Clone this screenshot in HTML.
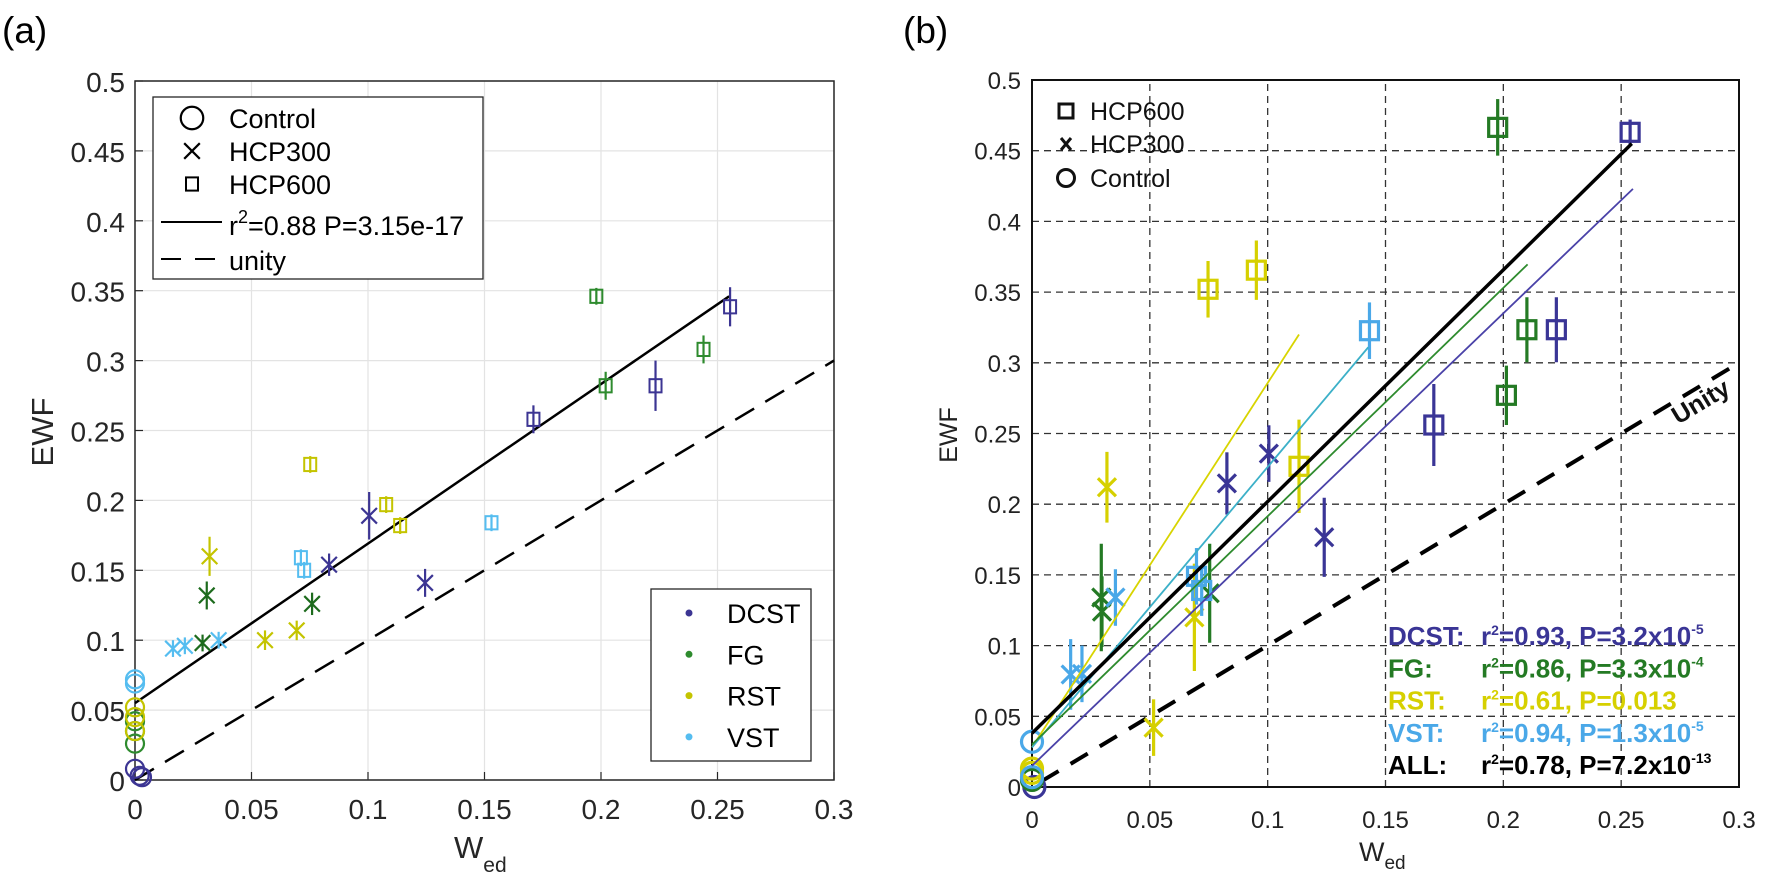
<!DOCTYPE html>
<html><head><meta charset="utf-8">
<style>
html,body{margin:0;padding:0;background:#fff;}
svg{display:block;font-family:"Liberation Sans",Arial,sans-serif;}
</style></head>
<body>
<svg id="fig" width="1765" height="879" viewBox="0 0 1765 879" xmlns="http://www.w3.org/2000/svg">
<g id="pa"></g>
<g id="pb"></g>
</svg>
<script>
// ---------- Panel (a) data ----------
const aGroup = ['DCST','DCST','DCST','DCST','DCST','DCST','DCST','DCST','DCST',
 'FG','FG','FG','FG','FG','FG','FG','FG','FG',
 'RST','RST','RST','RST','RST','RST','RST','RST','RST',
 'VST','VST','VST','VST','VST','VST','VST','VST'];
const aType = ['C','C','C','X','X','X','S','S','S',
 'C','C','C','X','X','X','S','S','S',
 'C','C','C','X','X','X','S','S','S',
 'C','C','X','X','X','S','S','S'];
const aX = [0,0.002,0.003,0.1005,0.0833,0.1245,0.171,0.2234,0.2554,
 0,0,0,0.0308,0.029,0.076,0.198,0.202,0.244,
 0,0,0,0.032,0.0558,0.0694,0.0752,0.1078,0.1138,
 0,0,0.0163,0.0214,0.0359,0.0712,0.0726,0.153];
const aY = [0.008,0.003,0.002,0.189,0.154,0.141,0.258,0.282,0.3385,
 0.026,0.035,0.042,0.132,0.098,0.126,0.346,0.282,0.308,
 0.052,0.045,0.035,0.16,0.1,0.107,0.2257,0.197,0.182,
 0.072,0.069,0.094,0.096,0.1,0.159,0.15,0.184];
const aErr = [0,0,0,0.017,0.008,0.01,0.01,0.018,0.014,
 0,0,0,0.01,0.005,0.008,0.006,0.01,0.01,
 0,0,0,0.014,0.007,0.007,0.003,0.003,0.004,
 0,0,0.003,0.003,0.003,0.004,0.004,0.004];
const aFit = [0.055, 0.255, 0.346]; // intercept, x end, y end
const aTicksX = ['0','0.05','0.1','0.15','0.2','0.25','0.3'];
const aTicksY = ['0','0.05','0.1','0.15','0.2','0.25','0.3','0.35','0.4','0.45','0.5'];

// ---------- Panel (b) data ----------
const bGroup = ['DCST','DCST','DCST','DCST','DCST','DCST','DCST',
 'FG','FG','FG','FG','FG','FG','FG',
 'RST','RST','RST','RST','RST','RST','RST','RST',
 'VST','VST','VST','VST','VST','VST','VST','VST'];
const bType = ['C','X','X','X','S','S','S',
 'C','X','X','X','S','S','S',
 'C','C','X','X','X','S','S','S',
 'C','C','X','X','X','S','S','S'];
const bX = [0.001,0.0827,0.1005,0.124,0.1705,0.2225,0.2538,
 0,0.0294,0.0297,0.0754,0.1976,0.2013,0.21,
 0,0,0.0318,0.0516,0.0689,0.0747,0.0952,0.1133,
 0,0,0.0164,0.0212,0.0354,0.0698,0.072,0.1432];
const bY = [0.0,0.2147,0.2358,0.1766,0.256,0.3234,0.463,
 0.005,0.134,0.124,0.137,0.4665,0.277,0.3234,
 0.013,0.01,0.212,0.042,0.12,0.352,0.3655,0.2268,
 0.032,0.007,0.0796,0.08,0.134,0.149,0.139,0.3227];
const bErr = [0,0.022,0.02,0.028,0.029,0.023,0.009,
 0,0.038,0.025,0.035,0.02,0.021,0.023,
 0,0,0.025,0.02,0.038,0.02,0.021,0.033,
 0,0,0.025,0.02,0.02,0.02,0.018,0.02];
const bFitGroup = ['RST','VST','FG','DCST','ALL'];
const bFitY0 = [0.028,0.028,0.03,0.015,0.038];
const bFitX1 = [0.1133,0.1427,0.2103,0.255,0.2545];
const bFitY1 = [0.32,0.311,0.3696,0.423,0.455];
const bTicksX = ['0','0.05','0.1','0.15','0.2','0.25','0.3'];
const bTicksY = ['0','0.05','0.1','0.15','0.2','0.25','0.3','0.35','0.4','0.45','0.5'];
const bStatGroup = ['DCST','FG','RST','VST','ALL'];
const bStatR = ['0.93','0.86','0.61','0.94','0.78'];
const bStatP = ['3.2x10','3.3x10','0.013','1.3x10','7.2x10'];
const bStatExp = ['-5','-4','','-5','-13'];

const NS='http://www.w3.org/2000/svg';
function mk(parent,tag,attrs,text){const e=document.createElementNS(NS,tag);for(const k in attrs)e.setAttribute(k,attrs[k]);if(text!==undefined)e.textContent=text;parent.appendChild(e);return e;}

const colA={DCST:'#3c3593',FG:'#2e8b2e',RST:'#c4c400',VST:'#55bdf0'};
const colAX={DCST:'#3c3593',FG:'#1d6b1d',RST:'#c4c400',VST:'#55bdf0'};
const colB={DCST:'#3a3596',FG:'#247a24',RST:'#d6d000',VST:'#4aa8e8',ALL:'#000'};
const fitColB={DCST:'#4a42a8',FG:'#2e8b2e',RST:'#d8d400',VST:'#3cb0c8',ALL:'#000'};

// ================= Panel A =================
const pa=document.getElementById('pa');
const A={x0:135,x1:834,y0:780,y1:81};
const ax=v=>A.x0+v/0.3*(A.x1-A.x0);
const ay=v=>A.y0-v/0.5*(A.y0-A.y1);
let t;
t=mk(pa,'text',{x:2,y:43,'font-size':37,fill:'#000'},'(a)');


aTicksX.forEach((lab,i)=>{const v=i*0.05;
 const g=mk(pa,'line',{x1:ax(v),x2:ax(v),y1:A.y0,y2:A.y1,stroke:'#e3e3e3','stroke-width':1.2});
 
 
 mk(pa,'line',{x1:ax(v),x2:ax(v),y1:A.y0,y2:A.y0-8,stroke:'#262626','stroke-width':1.2});
 const l=mk(pa,'text',{x:ax(v),y:819,'font-size':28,fill:'#262626','text-anchor':'middle'},lab);
 
 
});
aTicksY.forEach((lab,i)=>{const v=i*0.05;
 const g=mk(pa,'line',{x1:A.x0,x2:A.x1,y1:ay(v),y2:ay(v),stroke:'#e3e3e3','stroke-width':1.2});
 
 
 mk(pa,'line',{x1:A.x0,x2:A.x0+8,y1:ay(v),y2:ay(v),stroke:'#262626','stroke-width':1.2});
 const l=mk(pa,'text',{x:125,y:ay(v)+11,'font-size':28,fill:'#262626','text-anchor':'end'},lab);
 
 
});
t=mk(pa,'rect',{x:A.x0,y:A.y1,width:A.x1-A.x0,height:A.y0-A.y1,fill:'none',stroke:'#262626','stroke-width':1.5});


t=mk(pa,'text',{x:0,y:0,'font-size':31,fill:'#262626','text-anchor':'middle',transform:'translate(53,432) rotate(-90)'},'EWF');


t=mk(pa,'text',{x:454,y:858,'font-size':31,fill:'#262626'});


t.innerHTML='W<tspan font-size="21" dy="14">ed</tspan>';

t=mk(pa,'line',{x1:ax(0),y1:ay(0),x2:ax(0.3),y2:ay(0.3),stroke:'#000','stroke-width':2.5,'stroke-dasharray':'22,13'});


t=mk(pa,'line',{x1:ax(0),y1:ay(aFit[0]),x2:ax(aFit[1]),y2:ay(aFit[2]),stroke:'#000','stroke-width':2.5});



function markerA(g,type,cx,cy,col,sz){
 if(type==='C'){mk(g,'circle',{cx:cx,cy:cy,r:sz*0.75,fill:'none',stroke:col,'stroke-width':2.2});}
 else if(type==='X'){const d=sz*0.65;
  mk(g,'path',{d:`M${cx-d},${cy-d}L${cx+d},${cy+d}M${cx-d},${cy+d}L${cx+d},${cy-d}`,stroke:col,'stroke-width':2.2,fill:'none'});}
 else {mk(g,'rect',{x:cx-sz*0.5,y:cy-sz*0.55,width:sz,height:sz*1.1,fill:'none',stroke:col,'stroke-width':2});}
}
for(let i=0;i<aX.length;i++){
 const g=mk(pa,'g',{});
 
 
 const col=aType[i]==='X'?colAX[aGroup[i]]:colA[aGroup[i]];
 const cx=ax(aX[i]),cy=ay(aY[i]);
 const e=Math.max(aErr[i],aType[i]==='C'?0:0.006);
 if(aType[i]!=='C') mk(g,'line',{x1:cx,x2:cx,y1:ay(aY[i]+e),y2:ay(aY[i]-e),stroke:col,'stroke-width':2.2});
 markerA(g,aType[i],cx,cy,col,aType[i]==='C'?12:12);
}
t=mk(pa,'rect',{x:153,y:97,width:330,height:182,fill:'#fff',stroke:'#262626','stroke-width':1.3});


const legA=[['C','Control',118],['X','HCP300',151],['S','HCP600',184]];
legA.forEach(r=>{const g=mk(pa,'g',{});
 
 
 markerA(g,r[0],192,r[2],'#000',r[0]==='C'?15:12);
 mk(g,'text',{x:229,y:r[2]+10,'font-size':27,fill:'#000'},r[1]);});
t=mk(pa,'g',{});


mk(t,'line',{x1:161,x2:222,y1:222,y2:222,stroke:'#000','stroke-width':2});
mk(t,'text',{x:229,y:235,'font-size':27,fill:'#000'}).innerHTML='r<tspan font-size="18" dy="-12">2</tspan><tspan dy="12">=0.88 P=3.15e-17</tspan>';
t=mk(pa,'g',{});


mk(t,'line',{x1:161,x2:222,y1:259,y2:259,stroke:'#000','stroke-width':2,'stroke-dasharray':'20,14'});
mk(t,'text',{x:229,y:270,'font-size':27,fill:'#000'},'unity');
t=mk(pa,'rect',{x:651,y:589,width:160,height:172,fill:'#fff',stroke:'#262626','stroke-width':1.3});


['DCST','FG','RST','VST'].forEach((n,i)=>{const y=613+i*41.3;const g=mk(pa,'g',{});
 
 
 mk(g,'circle',{cx:689,cy:y,r:3.5,fill:colA[n]});
 mk(g,'text',{x:727,y:y+10,'font-size':27,fill:'#000'},n);});

// ================= Panel B =================
const pb=document.getElementById('pb');
const B={x0:1032,x1:1739,y0:787,y1:80};
const bx=v=>B.x0+v/0.3*(B.x1-B.x0);
const by=v=>B.y0-v/0.5*(B.y0-B.y1);
t=mk(pb,'text',{x:903,y:43,'font-size':37,fill:'#000'},'(b)');


bTicksX.forEach((lab,i)=>{const v=i*0.05;
 if(i>0&&i<6){const g=mk(pb,'line',{x1:bx(v),x2:bx(v),y1:B.y0,y2:B.y1,stroke:'#333','stroke-width':1.3,'stroke-dasharray':'7,5'});
 
 }
 const l=mk(pb,'text',{x:bx(v),y:828,'font-size':24,fill:'#222','text-anchor':'middle'},lab);
 
 
});
bTicksY.forEach((lab,i)=>{const v=i*0.05;
 if(i>0&&i<10){const g=mk(pb,'line',{x1:B.x0,x2:B.x1,y1:by(v),y2:by(v),stroke:'#333','stroke-width':1.3,'stroke-dasharray':'7,5'});
 
 }
 const l=mk(pb,'text',{x:1021,y:by(v)+9,'font-size':24,fill:'#222','text-anchor':'end'},lab);
 
 
});
t=mk(pb,'rect',{x:B.x0,y:B.y1,width:B.x1-B.x0,height:B.y0-B.y1,fill:'none',stroke:'#111','stroke-width':2});


t=mk(pb,'text',{x:0,y:0,'font-size':25,fill:'#222','text-anchor':'middle',transform:'translate(957,435) rotate(-90)'},'EWF');


t=mk(pb,'text',{x:1359,y:861,'font-size':27,fill:'#222'});


t.innerHTML='W<tspan font-size="19" dy="8">ed</tspan>';

t=mk(pb,'line',{x1:bx(0.004),y1:by(0.004),x2:bx(0.3),y2:by(0.3),stroke:'#000','stroke-width':4,'stroke-dasharray':'20,14'});


t=mk(pb,'text',{x:0,y:0,'font-size':25,'font-weight':'bold',fill:'#111','text-anchor':'middle',transform:`translate(${bx(0.283)+6},${by(0.283)+22}) rotate(-31)`},'Unity');



function markerB(g,type,cx,cy,col){
 if(type==='C'){mk(g,'circle',{cx:cx,cy:cy,r:10.5,fill:'none',stroke:col,'stroke-width':3.2});}
 else if(type==='X'){const d=9;
  mk(g,'path',{d:`M${cx-d},${cy-d}L${cx+d},${cy+d}M${cx-d},${cy+d}L${cx+d},${cy-d}`,stroke:col,'stroke-width':3.2,fill:'none'});}
 else {mk(g,'rect',{x:cx-9,y:cy-9,width:18,height:18,fill:'none',stroke:col,'stroke-width':3.2});}
}
for(let i=0;i<bX.length;i++){
 const g=mk(pb,'g',{});
 
 
 const col=colB[bGroup[i]];
 const cx=bx(bX[i]),cy=by(bY[i]);
 if(bErr[i]>0) mk(g,'line',{x1:cx,x2:cx,y1:by(bY[i]+bErr[i]),y2:by(bY[i]-bErr[i]),stroke:col,'stroke-width':3.2});
 markerB(g,bType[i],cx,cy,col);
}
for(let i=0;i<bFitGroup.length;i++){
 const l=mk(pb,'line',{x1:bx(0),y1:by(bFitY0[i]),x2:bx(bFitX1[i]),y2:by(bFitY1[i]),stroke:fitColB[bFitGroup[i]],'stroke-width':bFitGroup[i]==='ALL'?3.5:1.8});
 
 
}
const legB=[['S','HCP600',111],['X','HCP300',144],['C','Control',178]];
legB.forEach(r=>{const g=mk(pb,'g',{});
 
 
 if(r[0]==='S') mk(g,'rect',{x:1059,y:r[2]-7,width:14,height:14,fill:'none',stroke:'#111','stroke-width':3});
 else if(r[0]==='X') mk(g,'path',{d:`M1061,${r[2]-6}L1071,${r[2]+6}M1061,${r[2]+6}L1071,${r[2]-6}`,stroke:'#111','stroke-width':3});
 else mk(g,'circle',{cx:1066,cy:r[2],r:8.5,fill:'none',stroke:'#111','stroke-width':3});
 mk(g,'text',{x:1090,y:r[2]+9,'font-size':25,fill:'#111'},r[1]);});
bStatGroup.forEach((n,i)=>{const y=645+i*32.3;const g=mk(pb,'g',{});
 
 
 const c=colB[n];
 mk(g,'text',{x:1388,y:y,'font-size':26,'font-weight':'bold',fill:c},n+':');
 const tt=mk(g,'text',{x:1481,y:y,'font-size':26,'font-weight':'bold',fill:c});
 tt.innerHTML='r<tspan font-size="14" dy="-10">2</tspan><tspan dy="10">='+bStatR[i]+', P='+bStatP[i]+'</tspan>'+(bStatExp[i]?'<tspan font-size="14" dy="-11">'+bStatExp[i]+'</tspan>':'');
});
</script>
</body></html>
